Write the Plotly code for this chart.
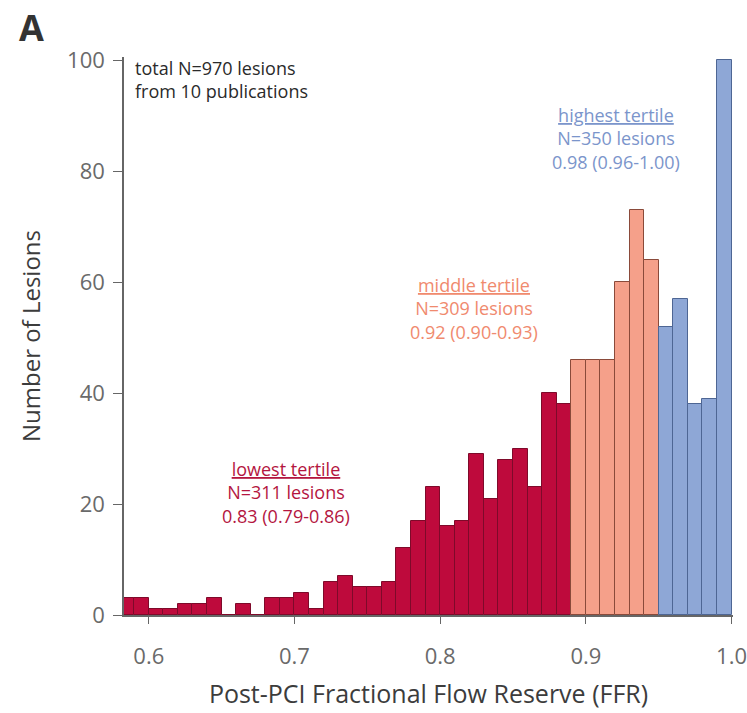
import plotly.graph_objects as go

# Histogram bins (left edges, width 0.01) and counts
bin_left = [0.58, 0.59, 0.60, 0.61, 0.62, 0.63, 0.64, 0.65, 0.66, 0.67,
            0.68, 0.69, 0.70, 0.71, 0.72, 0.73, 0.74, 0.75, 0.76, 0.77,
            0.78, 0.79, 0.80, 0.81, 0.82, 0.83, 0.84, 0.85, 0.86, 0.87,
            0.88, 0.89, 0.90, 0.91, 0.92, 0.93, 0.94, 0.95, 0.96, 0.97,
            0.98, 0.99]
counts = [3, 3, 1, 1, 2, 2, 3, 0, 2, 0,
          3, 3, 4, 1, 6, 7, 5, 5, 6, 12,
          17, 23, 16, 17, 29, 21, 28, 30, 23, 40,
          38, 46, 46, 46, 60, 73, 64, 52, 57, 38,
          39, 100]
bin_width = 0.01
middle_start = 0.89
highest_start = 0.95

x_ticks = [0.6, 0.7, 0.8, 0.9, 1.0]
x_tick_text = ["0.6", "0.7", "0.8", "0.9", "1.0"]
y_ticks = [0, 20, 40, 60, 80, 100]

RED, RED_EDGE = "#BE0A3C", "#7E0A2A"
ORANGE, ORANGE_EDGE = "#F5A08A", "#8A4A3A"
BLUE, BLUE_EDGE = "#8EA7D6", "#4E6694"

groups = [
    ("lowest", lambda v: v < middle_start - 1e-9, RED, RED_EDGE),
    ("middle", lambda v: middle_start - 1e-9 <= v < highest_start - 1e-9, ORANGE, ORANGE_EDGE),
    ("highest", lambda v: v >= highest_start - 1e-9, BLUE, BLUE_EDGE),
]

fig = go.Figure()
for name, cond, fill, edge in groups:
    xs = [b + bin_width / 2 for b in bin_left if cond(b)]
    ys = [c for b, c in zip(bin_left, counts) if cond(b)]
    fig.add_trace(go.Bar(x=xs, y=ys, width=bin_width, name=name,
                         marker=dict(color=fill, line=dict(color=edge, width=1)),
                         showlegend=False))

font_family = "Open Sans, Liberation Sans, sans-serif"

fig.update_layout(
    width=747, height=713,
    margin=dict(l=124, r=14, t=57, b=98),
    plot_bgcolor="white", paper_bgcolor="white",
    bargap=0,
    font=dict(family=font_family, color="#555555"),
    xaxis=dict(range=[0.583, 1.001], tickvals=x_ticks, ticktext=x_tick_text,
               ticks="outside", ticklen=7, tickcolor="#666666",
               ticklabelstandoff=14, automargin=False, ticklabeloverflow="allow",
               showline=True, linecolor="#666666", linewidth=1.5,
               showgrid=False, zeroline=False,
               tickfont=dict(size=22, color="#6a6a6a"),
               title=dict(text="Post-PCI Fractional Flow Reserve (FFR)",
                          font=dict(size=25, color="#3c3c3c"), standoff=16)),
    yaxis=dict(range=[0, 100.6], tickvals=y_ticks,
               ticks="outside", ticklen=9, tickcolor="#666666",
               ticklabelstandoff=4, automargin=False,
               showline=True, linecolor="#666666", linewidth=1.5,
               showgrid=False, zeroline=False,
               tickfont=dict(size=22, color="#6a6a6a"),
               title=dict(text="Number of Lesions",
                          font=dict(size=24, color="#3c3c3c"), standoff=20)),
)

annotations = [
    dict(x=0.5895, y=100.4, xanchor="left", yanchor="top", align="left", yshift=4,
         text="total N=970 lesions<br>from 10 publications",
         font=dict(size=18, color="#2a2a2a")),
    dict(x=0.694, y=22, xanchor="center", yanchor="middle", align="center",
         text="<u>lowest tertile</u><br>N=311 lesions<br>0.83 (0.79-0.86)",
         font=dict(size=18, color="#B4163F")),
    dict(x=0.823, y=55.2, xanchor="center", yanchor="middle", align="center",
         text="<u>middle tertile</u><br>N=309 lesions<br>0.92 (0.90-0.93)",
         font=dict(size=18, color="#F08A6E")),
    dict(x=0.9205, y=85.9, xanchor="center", yanchor="middle", align="center",
         text="<u>highest tertile</u><br>N=350 lesions<br>0.98 (0.96-1.00)",
         font=dict(size=18, color="#7B95CB")),
]
for a in annotations:
    fig.add_annotation(showarrow=False, xref="x", yref="y", **a)

# panel label "A" (page pixel ~ (31, 27))
fig.add_annotation(x=(31 - 124) / 609, y=(615 - 28) / 558, xref="paper", yref="paper",
                   xanchor="center", yanchor="middle", showarrow=False,
                   text="<b>A</b>", font=dict(size=36, color="#333333"))

# remove the browser's default 8px body margin so the figure sits at the page origin
fig.write_html("out.html", config={"displayModeBar": False},
               post_script="document.body.style.margin='0px';")
